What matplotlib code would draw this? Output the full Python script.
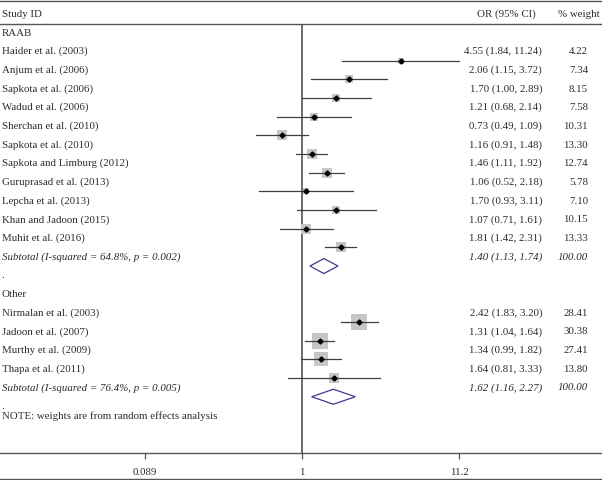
"""Forest plot: odds ratios by study, grouped RAAB / Other, random effects."""

import matplotlib.pyplot as plt
import numpy as np
from matplotlib.lines import Line2D

raab_studies = [
    "Haider et al. (2003)",
    "Anjum et al. (2006)",
    "Sapkota et al. (2006)",
    "Wadud et al. (2006)",
    "Sherchan et al. (2010)",
    "Sapkota et al. (2010)",
    "Sapkota and Limburg (2012)",
    "Guruprasad et al. (2013)",
    "Lepcha et al. (2013)",
    "Khan and Jadoon (2015)",
    "Muhit et al. (2016)",
]
raab_or = [4.55, 2.06, 1.70, 1.21, 0.73, 1.16, 1.46, 1.06, 1.70, 1.07, 1.81]
raab_lo = [1.84, 1.15, 1.00, 0.68, 0.49, 0.91, 1.11, 0.52, 0.93, 0.71, 1.42]
raab_hi = [11.24, 3.72, 2.89, 2.14, 1.09, 1.48, 1.92, 2.18, 3.11, 1.61, 2.31]
raab_w = [4.22, 7.34, 8.15, 7.58, 10.31, 13.30, 12.74, 5.78, 7.10, 10.15, 13.33]
raab_sub = (1.40, 1.13, 1.74)
raab_i2, raab_p = 64.8, 0.002

other_studies = [
    "Nirmalan et al. (2003)",
    "Jadoon et al. (2007)",
    "Murthy et al. (2009)",
    "Thapa et al. (2011)",
]
other_or = [2.42, 1.31, 1.34, 1.64]
other_lo = [1.83, 1.04, 0.99, 0.81]
other_hi = [3.20, 1.64, 1.82, 3.33]
other_w = [28.41, 30.38, 27.41, 13.80]
other_sub = (1.62, 1.16, 2.27)
other_i2, other_p = 76.4, 0.005

x_ticks = [0.089, 1, 11.2]
x_tick_labels = ["0.089", "1", "11.2"]

# layout (pixel units, y grows downward)
W, H = 602, 480
AXIS_Y = 453
ROW0, DY = 33.0, 18.67
MARK_OFF = 9.0
X_ONE, PX_PER_DEC = 302.0, 149.7
FONT = "Liberation Serif"
FS = 7.8
TXT = "#2b2b2b"
LINE = "#404040"
BOX = "#c6c6c6"
DIAM = "#3b3b8f"

plt.rcParams["font.family"] = [FONT, "DejaVu Serif"]

fig = plt.figure(figsize=(W / 100, H / 100), dpi=100)
ax = fig.add_axes([0, (H - AXIS_Y) / H, 1, AXIS_Y / H])
ax.set_xscale("log")
ax.set_xlim(10 ** (-X_ONE / PX_PER_DEC), 10 ** ((W - X_ONE) / PX_PER_DEC))
ax.set_ylim(AXIS_Y, 0)
for side in ("top", "left", "right"):
    ax.spines[side].set_visible(False)
ax.spines["bottom"].set_color("#555555")
ax.spines["bottom"].set_linewidth(1.0)
ax.set_yticks([])
ax.set_xticks(x_ticks)
ax.set_xticklabels(x_tick_labels)
ax.minorticks_off()
ax.tick_params(axis="x", direction="out", length=4.5, width=0.9, color="#555555",
               pad=6.5, labelsize=FS, labelcolor=TXT)

tx = ax.get_yaxis_transform()  # x in axes fraction, y in data


def row_y(i):
    return ROW0 + DY * i


def label(i, s, style="normal"):
    ax.text(1.5 / W, row_y(i), s, transform=tx, ha="left", va="center",
            fontsize=FS, color=TXT, style=style)


def right_cols(i, est, lo, hi, w, style="normal"):
    ax.text(542 / W, row_y(i), f"{est:.2f} ({lo:.2f}, {hi:.2f})", transform=tx,
            ha="right", va="center", fontsize=FS, color=TXT, style=style)
    ax.text(588 / W, row_y(i), f"{w:.2f}", transform=tx,
            ha="right", va="center", fontsize=FS, color=TXT, style=style)


def study_rows(start, names, ors, los, his, ws):
    for k, (n, o, lo, hi, w) in enumerate(zip(names, ors, los, his, ws)):
        i = start + k
        y = row_y(i) + MARK_OFF
        label(i, n)
        right_cols(i, o, lo, hi, w)
        ax.scatter([o], [y], marker="s", s=4.2 * w, color=BOX, lw=0, zorder=2)
        ax.plot([lo, hi], [y, y], color=LINE, lw=0.9, zorder=3)
        ax.plot([o], [y], marker="D", ms=2.6, color="black", zorder=4)


def subtotal_row(i, sub, i2, p):
    est, lo, hi = sub
    label(i, f"Subtotal (I-squared = {i2:.1f}%, p = {p:.3f})", style="italic")
    right_cols(i, est, lo, hi, 100.0, style="italic")
    y = row_y(i) + MARK_OFF
    h = 7.5
    ax.fill([lo, est, hi, est, lo], [y, y - h, y, y + h, y], facecolor="white",
            edgecolor=DIAM, lw=0.9, zorder=3)


# header
ax.text(1.5 / W, row_y(-1), "Study ID", transform=tx, ha="left", va="center",
        fontsize=FS, color=TXT)
ax.text(506 / W, row_y(-1), "OR (95% CI)", transform=tx, ha="center", va="center",
        fontsize=FS, color=TXT)
ax.text(579 / W, row_y(-1), "% weight", transform=tx, ha="center", va="center",
        fontsize=FS, color=TXT)
ax.axhline(24, color="#555555", lw=1.0)

# reference line at OR = 1
ax.vlines(1, 24, AXIS_Y, color="#444444", lw=1.1, zorder=1)

label(0, "RAAB")
study_rows(1, raab_studies, raab_or, raab_lo, raab_hi, raab_w)
subtotal_row(12, raab_sub, raab_i2, raab_p)
label(13, ".")
label(14, "Other")
study_rows(15, other_studies, other_or, other_lo, other_hi, other_w)
subtotal_row(19, other_sub, other_i2, other_p)
label(20, ".")
ax.text(1.5 / W, row_y(20) + 10, "NOTE: weights are from random effects analysis",
        transform=tx, ha="left", va="center", fontsize=FS, color=TXT)

# outer frame lines (top and bottom)
for yp in (0.7, H - 0.7):
    fig.add_artist(Line2D([0, 1], [1 - yp / H, 1 - yp / H], transform=fig.transFigure,
                          color="#555555", lw=1.0))

fig.savefig("out.png", dpi=100)
